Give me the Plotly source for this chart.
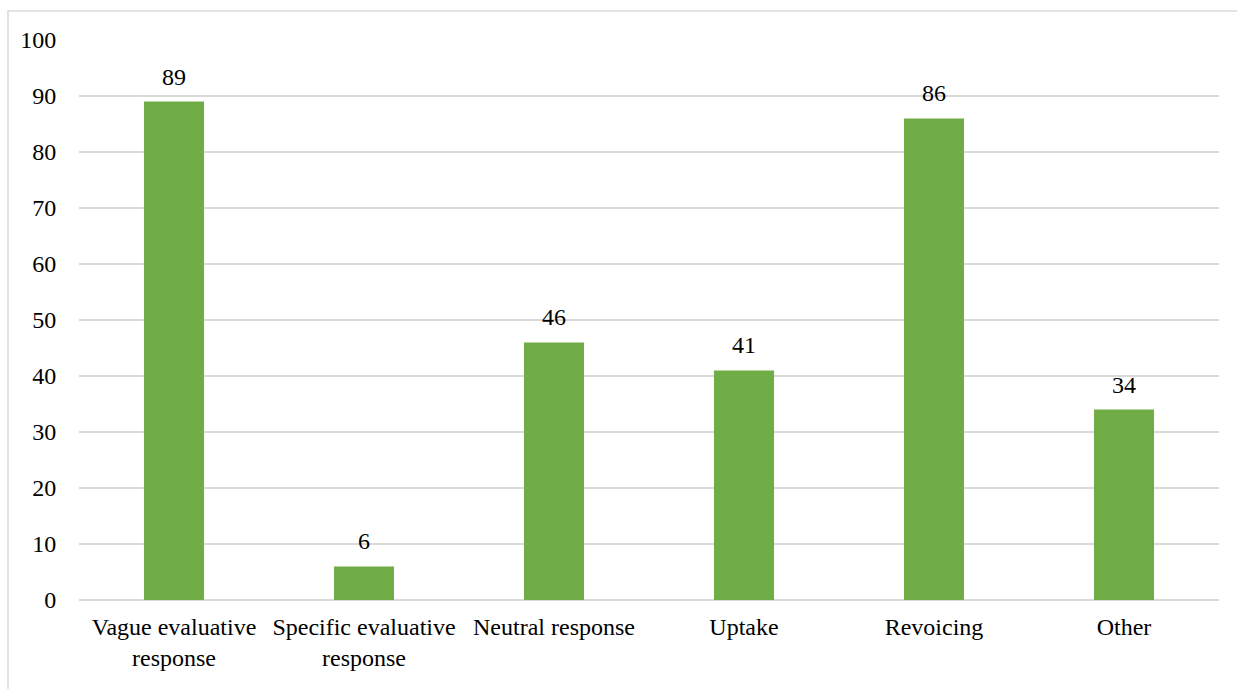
import plotly.graph_objects as go

categories = [
    "Vague evaluative<br>response",
    "Specific evaluative<br>response",
    "Neutral response",
    "Uptake",
    "Revoicing",
    "Other",
]
counts = [89, 6, 46, 41, 86, 34]
y_ticks = list(range(0, 101, 10))

W, H = 1237, 689
ML, MR, MT, MB = 79, 18, 40, 89
pw, ph = W - ML - MR, H - MT - MB
FONT = "Liberation Serif, Times New Roman, serif"
FS = 24

fig = go.Figure()
fig.add_trace(go.Bar(
    x=categories,
    y=counts,
    marker=dict(color="#70AD47", line=dict(width=0)),
    width=0.316,
    hoverinfo="skip",
))

for c, v in zip(categories, counts):
    fig.add_annotation(
        x=c, y=v, text=str(v), showarrow=False,
        yanchor="bottom", yshift=10,
        font=dict(family=FONT, size=FS, color="#000000"),
    )

# outer chart frame
fig.add_shape(
    type="rect", xref="paper", yref="paper",
    x0=(8 - ML) / pw, x1=(W + 5 - ML) / pw,
    y0=-(H + 5 - MT - ph) / ph, y1=1 + (MT - 11) / ph,
    line=dict(color="#d9d9d9", width=1.5),
    fillcolor="rgba(0,0,0,0)", layer="below",
)

fig.update_layout(
    width=W, height=H,
    margin=dict(l=ML, r=MR, t=MT, b=MB, pad=0),
    paper_bgcolor="white", plot_bgcolor="white",
    showlegend=False,
    font=dict(family=FONT, size=FS, color="#000000"),
    xaxis=dict(
        showgrid=False, zeroline=False, showline=False,
        tickangle=0,
        ticks="outside", ticklen=5, tickcolor="rgba(0,0,0,0)",
        tickfont=dict(family=FONT, size=FS, color="#000000"),
    ),
    yaxis=dict(
        range=[0, 100], tickvals=y_ticks,
        showgrid=True, gridcolor="#d9d9d9", gridwidth=1.5,
        zeroline=True, zerolinecolor="#d9d9d9", zerolinewidth=1.5,
        showline=False,
        ticks="outside", ticklen=17, tickcolor="rgba(0,0,0,0)",
        tickfont=dict(family=FONT, size=FS, color="#000000"),
    ),
)

fig.write_html("out.html")
